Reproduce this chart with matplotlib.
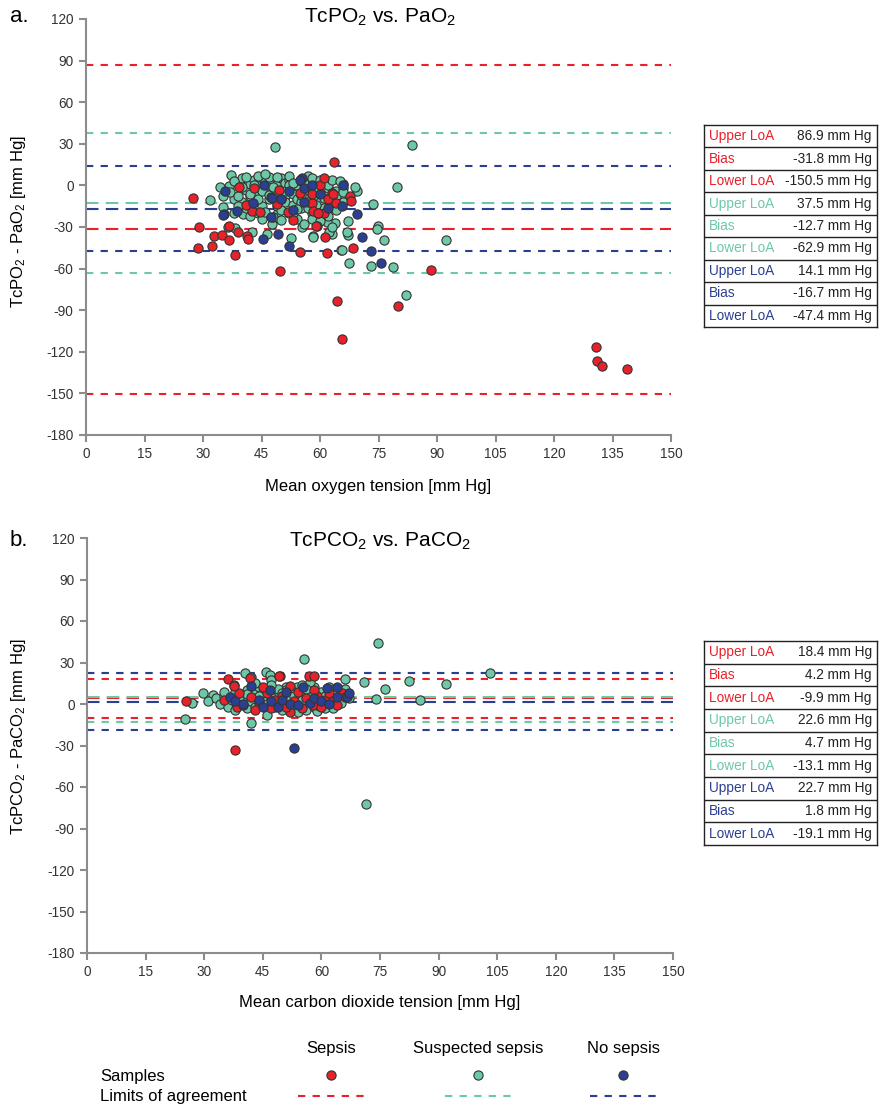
import matplotlib
matplotlib.use('Agg')
import matplotlib.pyplot as plt
from matplotlib.lines import Line2D

plt.rcParams['font.family'] = ['Liberation Sans', 'DejaVu Sans']
plt.rcParams['mathtext.fontset'] = 'custom'
plt.rcParams['mathtext.rm'] = 'Liberation Sans'
plt.rcParams['mathtext.it'] = 'Liberation Sans'
plt.rcParams['axes.unicode_minus'] = False

RED = '#e8212a'
GREEN = '#6dc8a7'
BLUE = '#2b3f92'
SPINE = '#8c8c8c'

groups = ['Sepsis', 'Suspected sepsis', 'No sepsis']
colors = [RED, GREEN, BLUE]

# ---- panel a: TcPO2 vs PaO2 ----
o2_sep_x = [27.4, 28.9, 28.8, 32.3, 32.8, 34.8, 36.6, 38.3, 36.7, 39.1, 41.4, 41.6, 49.7, 54.9, 59.2,
            61.3, 61.9, 68.5, 88.4, 79.9, 64.3, 65.6, 130.8, 131.0, 132.4, 138.7, 63.6,
            39.3, 42.6, 41.0, 44.6, 49.6, 49.1, 51.7, 54.9, 57.9, 59.4, 63.2, 62.1, 67.6, 68.0,
            43.0, 58.0, 60.0, 61.0, 53.0, 64.0,
            61.0, 63.3, 58.3, 59.6, 59.0]
o2_sep_y = [-8.9, -30.0, -44.9, -43.7, -36.5, -36.0, -39.6, -50.0, -29.0, -33.4, -36.5, -38.9, -61.5, -48.3, -29.3,
            -37.0, -49.0, -44.9, -61.0, -86.8, -83.4, -111.0, -116.8, -126.6, -130.3, -132.2, 17.1,
            -0.9, -18.7, -14.0, -19.0, -3.3, -13.4, -19.0, -5.7, -12.9, -20.1, -5.7, -9.8, -7.4, -11.5,
            -2.0, -6.0, 0.0, -20.0, -25.0, -13.0,
            5.1, -6.2, -18.5, -20.1, -29.3]
o2_sus_x = [48.5, 83.7, 31.8, 79.7, 73.7, 38.3, 42.6, 46.5, 52.6, 55.5, 58.3, 63.1, 65.3, 67.3, 67.5,
            73.0, 78.6, 76.3, 74.8, 74.7, 92.2, 82.1, 69.6, 69.0, 65.9, 63.8, 61.8, 37.2, 36.7, 34.4,
            35.0, 35.2, 38.0, 40.2, 49.2, 47.6, 36.5, 67.1, 62.4, 58.3, 66.8, 65.6,
            39, 40, 41, 42, 42, 43, 43, 44, 44, 45, 45, 46, 46, 47, 47, 48, 48, 49, 49, 50, 50, 51, 51, 51,
            52, 52, 53, 53, 54, 54, 55, 55, 56, 56, 57, 57, 58, 58, 59, 59, 60, 60, 61, 61, 62, 62, 63, 64,
            64, 65, 66, 40, 41, 42, 44, 45, 46, 48, 50, 52, 54, 56, 58, 60, 44, 47, 52, 57, 63, 66, 38, 39,
            50, 53, 55, 57, 59,
            37, 38, 39, 40, 41, 42, 43, 44, 45, 46, 47, 48, 49, 50, 51, 52, 53, 54, 55, 56, 57, 58, 59, 60,
            61, 62, 63, 64, 65, 66]
o2_sus_y = [27.5, 28.9, -10.3, -1.4, -13.4, -30.5, -33.4, -34.8, -38.0, -30.2, -36.7, -34.8, -46.8, -35.8, -55.8,
            -58.1, -59.1, -39.6, -29.3, -31.5, -39.6, -79.3, -3.8, -1.5, 1.0, -26.9, -26.6, 7.5, -0.2, -1.4,
            -7.4, -15.4, -20.1, -20.6, -19.0, -27.8, -30.2, -25.5, -33.4, -37.4, -33.4, -46.6,
            2, 5, -3, 1, -8, 4, -12, -5, 2, 5, -15, -2, 3, -10, 0, 4, -6, -15, 1, -3, 5, -8, -12, 2,
            -2, 4, -6, -14, 0, -10, 3, -16, -4, -9, 1, 5, -2, -20, -8, 2, -12, -4, 1, -16, -2, -22, -12, -4,
            -18, -8, -2, -12, -16, -22, -20, -24, -19, -23, -25, -20, -24, -28, -24, -26, 7, 6, 7, 7, -30, -12, -10, -15,
            -18, -20, -12, -16, -14,
            -5, 3, -8, -1, 6, -6, 0, -10, -4, 8, -7, -1, 6, -10, -4, 0, 2, -17, -7, 2, -12, 5, -3, 4,
            -9, 0, 4, -8, 3, -5]
o2_no_x = [35.6, 35.5, 42.7, 47.4, 45.6, 49.2, 53.0, 55.4, 45.5, 52.1, 70.8, 73.2, 75.6, 69.5, 65.6,
           65.8, 35.2, 38.6, 47.4, 47.6, 54.9, 55.9, 50.0, 52.0, 56.0, 58.0, 60.0, 62.0]
o2_no_y = [-3.8, -20.6, -12.5, -8.6, 0.3, -35.3, -17.8, 5.0, -38.9, -43.5, -37.0, -47.3, -56.2, -20.6, -14.9,
           0.3, -21.4, -18.7, -22.6, -9.3, 3.9, -2.1, -10.0, -4.0, -12.0, 0.0, -6.0, -16.0]
o2_table = [('Upper LoA', '86.9 mm Hg'), ('Bias', '-31.8 mm Hg'), ('Lower LoA', '-150.5 mm Hg'),
            ('Upper LoA', '37.5 mm Hg'), ('Bias', '-12.7 mm Hg'), ('Lower LoA', '-62.9 mm Hg'),
            ('Upper LoA', '14.1 mm Hg'), ('Bias', '-16.7 mm Hg'), ('Lower LoA', '-47.4 mm Hg')]
o2_lines = [(86.9, -31.8, -150.5), (37.5, -12.7, -62.9), (14.1, -16.7, -47.4)]

# ---- panel b: TcPCO2 vs PaCO2 ----
co2_sep_x = [25.3, 36.2, 37.6, 41.7, 56.8, 58.2, 49.4, 37.9, 38.3, 52.0, 57.9, 65.2, 35, 40, 42, 44, 46, 47,
             48, 50, 51, 53, 54, 55, 56, 59, 60, 61, 62, 63, 64, 66, 39, 43, 45, 58, 52, 37.5, 49.1]
co2_sep_y = [2.0, 18.1, 13.8, 19.0, 20.5, 20.5, 20.5, -33.3, -2.0, -5.5, -0.7, 7.7, 3, -1, 5, 1, 8, -3,
             3, 6, -2, 2, 9, -3, 4, 6, -2, 3, 8, 2, -1, 5, 8, -4, 12, 10, 13, 13.0, 20.2]
co2_sus_x = [74.6, 55.6, 103.1, 40.5, 45.8, 66.0, 71.0, 82.4, 91.9, 76.4, 73.9, 85.2, 26.8, 25.1, 41.9, 46.0,
             71.3, 42.0, 46.8, 47.0, 53.7, 51.0, 29.8, 32.3, 60.8,
             31, 33, 34, 35, 36, 37, 38, 39, 40, 41, 41, 42, 43, 44, 44, 45, 46, 47, 48, 48, 49, 50, 50, 51,
             52, 53, 53, 54, 55, 55, 56, 56, 57, 58, 58, 59, 60, 60, 61, 62, 62, 63, 64, 65, 66, 67, 54, 57,
             43, 38, 35, 47, 63, 59,
             39, 41, 43, 45, 47, 49, 51, 53, 55, 57, 59, 61, 63, 65, 44, 50, 56, 62]
co2_sus_y = [44.3, 32.3, 22.6, 22.6, 23.1, 18.1, 16.1, 16.6, 14.7, 10.6, 3.6, 2.7, 1.0, -11.1, -13.5, -8.2,
             -72.0, 19.3, 21.0, 17.0, 12.5, 12.0, 7.7, 6.5, 3.0,
             2, 4, 0, 6, -2, 3, 9, 1, 5, -3, 10, 2, 7, -1, 12, 4, 0, 9, -2, 5, 11, 1, -4, 7,
             3, -1, 9, 5, 0, 14, -4, 8, 3, -2, 12, 5, 9, 0, -3, 6, 12, 3, 9, 1, 11, 4, -6, 16,
             15, -4, 9, 14, -3, -5,
             4, 7, -2, 9, 5, -1, 10, 6, 3, 8, -1, 6, 10, 7, 6, 8, 11, 2]
co2_no_x = [53.0, 42.0, 36.6, 46.8, 55.2, 61.4, 63.9, 66.5, 49.0, 38, 40, 44, 45, 47, 50, 52, 54, 57,
            58, 60, 62, 64, 67, 51]
co2_no_y = [-31.8, 13.0, 4.8, 10.1, 12.0, 11.3, 12.0, 4.8, -2.0, 2, 0, 3, -2, 2, 3, 0, -1, 1,
            4, 2, 0, 5, 8, 9]
co2_table = [('Upper LoA', '18.4 mm Hg'), ('Bias', '4.2 mm Hg'), ('Lower LoA', '-9.9 mm Hg'),
             ('Upper LoA', '22.6 mm Hg'), ('Bias', '4.7 mm Hg'), ('Lower LoA', '-13.1 mm Hg'),
             ('Upper LoA', '22.7 mm Hg'), ('Bias', '1.8 mm Hg'), ('Lower LoA', '-19.1 mm Hg')]
co2_lines = [(18.4, 4.2, -9.9), (22.6, 4.7, -13.1), (22.7, 1.8, -19.1)]

xticks = list(range(0, 151, 15))
yticks = list(range(-180, 121, 30))


def draw_panel(ax, pts, lines):
    for (up, bias, lo), c in zip(lines, colors):
        ax.axhline(up, color=c, lw=1.5, dashes=(3.5, 3.5), zorder=1)
        ax.axhline(lo, color=c, lw=1.5, dashes=(3.5, 3.5), zorder=1)
        ax.axhline(bias, color=c, lw=1.5, dashes=(6, 3.5), zorder=1)
    # suspected first, then sepsis, then no sepsis on top
    for (x, y), c in zip(pts, [GREEN, RED, BLUE]):
        ax.scatter(x, y, s=44, c=c, edgecolors='#333333', linewidths=0.8, zorder=3)
    ax.set_xlim(0, 150)
    ax.set_ylim(-180, 120)
    ax.set_xticks(xticks)
    ax.set_yticks(yticks)
    for s in ['top', 'right']:
        ax.spines[s].set_visible(False)
    for s in ['left', 'bottom']:
        ax.spines[s].set_color(SPINE)
        ax.spines[s].set_linewidth(1.5)
    ax.tick_params(direction='out', length=5, width=1.5, color=SPINE, labelsize=9.8,
                   labelcolor='#333333', pad=4)


def draw_table(tax, rows):
    tax.set_xlim(0, 1)
    tax.set_ylim(0, len(rows))
    tax.set_xticks([])
    tax.set_yticks([])
    for s in tax.spines.values():
        s.set_color('#222222')
        s.set_linewidth(1.0)
    for i, (lab, val) in enumerate(rows):
        yc = len(rows) - i - 0.5
        c = colors[i // 3]
        tax.text(0.03, yc, lab, color=c, fontsize=9.8, va='center', ha='left')
        tax.text(0.97, yc, val, color='#222222', fontsize=9.8, va='center', ha='right')
        if i > 0:
            tax.axhline(len(rows) - i, color='#222222', lw=1.0)


fig = plt.figure(figsize=(8.88, 11.04), dpi=100)

ax1 = fig.add_axes([86 / 888, 1 - 435 / 1104, 585 / 888, 416 / 1104])
draw_panel(ax1, [(o2_sus_x, o2_sus_y), (o2_sep_x, o2_sep_y), (o2_no_x, o2_no_y)], o2_lines)
ax2 = fig.add_axes([87 / 888, 1 - 953 / 1104, 586 / 888, 415 / 1104])
draw_panel(ax2, [(co2_sus_x, co2_sus_y), (co2_sep_x, co2_sep_y), (co2_no_x, co2_no_y)], co2_lines)

t1 = fig.add_axes([704 / 888, 1 - 327 / 1104, 173 / 888, 202 / 1104])
draw_table(t1, o2_table)
t2 = fig.add_axes([704 / 888, 1 - 845 / 1104, 173 / 888, 204 / 1104])
draw_table(t2, co2_table)

fig.text(380 / 888, 1 - 17 / 1104, 'TcPO$_{2}$ vs. PaO$_{2}$', fontsize=15, ha='center', va='center')
fig.text(380 / 888, 1 - 541 / 1104, 'TcPCO$_{2}$ vs. PaCO$_{2}$', fontsize=15, ha='center', va='center')
fig.text(10 / 888, 1 - 17 / 1104, 'a.', fontsize=16, ha='left', va='center')
fig.text(10 / 888, 1 - 541 / 1104, 'b.', fontsize=16, ha='left', va='center')
fig.text(378 / 888, 1 - 487 / 1104, 'Mean oxygen tension [mm Hg]', fontsize=12, ha='center', va='center')
fig.text(380 / 888, 1 - 1003 / 1104, 'Mean carbon dioxide tension [mm Hg]', fontsize=12, ha='center', va='center')
fig.text(18 / 888, 1 - 222 / 1104, 'TcPO$_{2}$ - PaO$_{2}$ [mm Hg]', fontsize=12, ha='center', va='center',
         rotation=90)
fig.text(18 / 888, 1 - 737 / 1104, 'TcPCO$_{2}$ - PaCO$_{2}$ [mm Hg]', fontsize=12, ha='center', va='center',
         rotation=90)

# legend
leg = fig.add_axes([0, 0, 1, 1 - 1030 / 1104])
leg.set_xlim(0, 888)
leg.set_ylim(74, 0)
leg.axis('off')
leg_x = [331, 478, 623]
for gx, name, c in zip(leg_x, groups, colors):
    leg.text(gx, 18, name, fontsize=12, ha='center', va='center')
    leg.scatter([gx], [45], s=44, c=c, edgecolors='#333333', linewidths=0.8)
    leg.add_line(Line2D([gx - 33, gx + 33], [66, 66], color=c, lw=1.5, dashes=(3.5, 3.5)))
leg.text(100, 46, 'Samples', fontsize=12, ha='left', va='center')
leg.text(100, 66, 'Limits of agreement', fontsize=12, ha='left', va='center')

fig.savefig('out.png', dpi=100)
